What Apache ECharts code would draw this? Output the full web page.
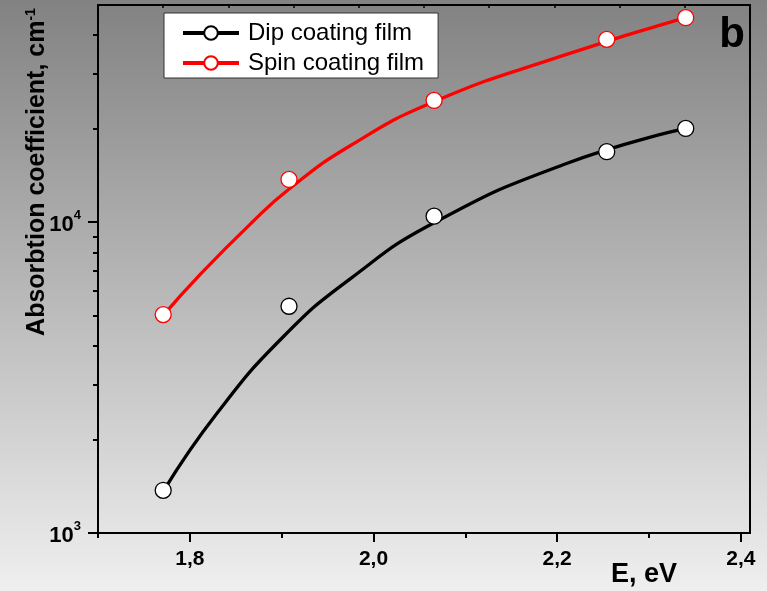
<!DOCTYPE html>
<html>
<head>
<meta charset="utf-8">
<script src="https://cdn.jsdelivr.net/npm/echarts@6/dist/echarts.min.js"></script>
<style>
  html, body { margin: 0; padding: 0; }
  #chart { width: 767px; height: 591px; }
</style>
</head>
<body>
<div id="chart"></div>
<script>
// Measured absorption coefficient (cm^-1) versus photon energy (eV)
const energy = [1.771, 1.908, 2.066, 2.254, 2.340];
const dipAlpha = [1372, 5365, 10455, 16860, 20030];
const spinAlpha = [5044, 13730, 24650, 38750, 45510];

// Fitted trend curves
const dipFitEnergy = [1.7717, 1.8298, 1.9023, 1.9750, 2.0664, 2.2072, 2.3397];
const dipFitAlpha = [1372, 2434, 4296, 6587, 9978, 15340, 20030];
const spinFitEnergy = [1.7717, 1.8121, 1.8665, 1.9075, 1.9750, 2.0664, 2.2069, 2.3397];
const spinFitAlpha = [5044, 6836, 9904, 12743, 17654, 24465, 34410, 45510];

// Axis ticks
const xMajorTicks = [1.8, 2.0, 2.2, 2.4];
const xMinorTicks = [1.7, 1.9, 2.1, 2.3];
const yMajorTicks = [1000, 10000];
const yMinorTicks = [2000, 3000, 4000, 5000, 6000, 7000, 8000, 9000, 20000, 30000, 40000];

const FONT = '"Liberation Sans", Arial, sans-serif';

const pairs = (xs, ys) => xs.map((x, i) => [x, ys[i]]);

const chart = echarts.init(document.getElementById('chart'), null, { renderer: 'canvas' });

const xBase = { type: 'value', min: 1.7, max: 2.41, splitLine: { show: false } };
const yBase = { type: 'log', logBase: 10, min: 1000, max: 50000, splitLine: { show: false } };

chart.setOption({
  animation: false,
  backgroundColor: {
    type: 'linear', x: 0, y: 0, x2: 0, y2: 1,
    colorStops: [
      { offset: 0, color: '#828282' },
      { offset: 1, color: '#efefef' }
    ]
  },
  grid: {
    left: 98, right: 17, top: 5, bottom: 58,
    show: true, borderColor: '#000', borderWidth: 2, backgroundColor: 'transparent'
  },
  legend: {
    left: 164, top: 13,
    orient: 'vertical',
    padding: [8, 14, 3, 17],
    itemGap: 6,
    itemWidth: 56,
    itemHeight: 17,
    backgroundColor: '#fff',
    borderColor: '#333',
    borderWidth: 1,
    textStyle: { fontFamily: FONT, fontSize: 24, color: '#000', lineHeight: 24, padding: [0, 0, 0, 4] },
    data: [
      { name: 'Dip coating film', lineStyle: { color: '#000', width: 4, opacity: 1 } },
      { name: 'Spin coating film', lineStyle: { color: '#ff0000', width: 4, opacity: 1 } }
    ]
  },
  xAxis: [
    Object.assign({}, xBase, {
      position: 'bottom',
      axisLine: { show: true, lineStyle: { color: '#000', width: 2 } },
      axisTick: { show: true, customValues: xMajorTicks, length: 9, lineStyle: { color: '#000', width: 2 } },
      axisLabel: {
        show: true, customValues: xMajorTicks, margin: 16,
        fontFamily: FONT, fontSize: 21, fontWeight: 'bold', color: '#000',
        formatter: v => v.toFixed(1).replace('.', ',')
      }
    }),
    Object.assign({}, xBase, {
      position: 'bottom',
      axisLine: { show: false },
      axisTick: { show: true, customValues: xMinorTicks, length: 5, lineStyle: { color: '#000', width: 2 } },
      axisLabel: { show: false }
    }),
    {
      type: 'value', position: 'top', min: 0, max: 10, interval: 1,
      splitLine: { show: false },
      axisLine: { show: true, lineStyle: { color: '#000', width: 2 } },
      axisTick: { show: true, inside: true, length: 3, lineStyle: { color: '#000', width: 1.5 } },
      axisLabel: { show: false }
    }
  ],
  yAxis: [
    Object.assign({}, yBase, {
      position: 'left',
      axisLine: { show: true, lineStyle: { color: '#000', width: 2 } },
      axisTick: { show: true, customValues: yMajorTicks, length: 10, lineStyle: { color: '#000', width: 2 } },
      axisLabel: {
        show: true, customValues: yMajorTicks, margin: 17, color: '#000',
        formatter: v => '{m|10}{e|' + Math.round(Math.log10(v)) + '}',
        rich: {
          m: { fontFamily: FONT, fontSize: 22, fontWeight: 'bold', color: '#000', padding: [5, 0, 0, 0] },
          e: { fontFamily: FONT, fontSize: 13, fontWeight: 'bold', color: '#000', verticalAlign: 'top' }
        }
      }
    }),
    Object.assign({}, yBase, {
      position: 'left',
      axisLine: { show: false },
      axisTick: { show: true, customValues: yMinorTicks, length: 5, lineStyle: { color: '#000', width: 2 } },
      axisLabel: { show: false }
    })
  ],
  graphic: [
    {
      type: 'text', x: 37, y: 172, rotation: Math.PI / 2,
      style: {
        text: '{t|Absorbtion coefficient, cm}{s|-1}',
        align: 'center', verticalAlign: 'middle',
        rich: {
          t: { fontFamily: FONT, fontSize: 25, fontWeight: 'bold', fill: '#000' },
          s: { fontFamily: FONT, fontSize: 14, fontWeight: 'bold', fill: '#000', verticalAlign: 'top' }
        }
      }
    },
    {
      type: 'text', x: 644, y: 575,
      style: { text: 'E, eV', font: 'bold 27px ' + FONT, fill: '#000', align: 'center', verticalAlign: 'middle' }
    },
    {
      type: 'text', x: 745, y: 35,
      style: { text: 'b', font: 'bold 42px ' + FONT, fill: '#000', align: 'right', verticalAlign: 'middle' }
    }
  ],
  series: [
    {
      name: 'Dip fit', type: 'line', data: pairs(dipFitEnergy, dipFitAlpha),
      smooth: 0.5, showSymbol: false, symbol: 'none', z: 2,
      lineStyle: { color: '#000', width: 3.3 }
    },
    {
      name: 'Spin fit', type: 'line', data: pairs(spinFitEnergy, spinFitAlpha),
      smooth: 0.5, showSymbol: false, symbol: 'none', z: 2,
      lineStyle: { color: '#ff0000', width: 3.3 }
    },
    {
      name: 'Dip coating film', type: 'line', data: pairs(energy, dipAlpha),
      symbol: 'circle', symbolSize: 16, z: 5,
      lineStyle: { color: '#000', width: 0, opacity: 0 },
      itemStyle: { color: '#fff', borderColor: '#000', borderWidth: 1.3 }
    },
    {
      name: 'Spin coating film', type: 'line', data: pairs(energy, spinAlpha),
      symbol: 'circle', symbolSize: 16, z: 5,
      lineStyle: { color: '#ff0000', width: 0, opacity: 0 },
      itemStyle: { color: '#fff', borderColor: '#ff0000', borderWidth: 1.3 }
    }
  ]
});
</script>
</body>
</html>
